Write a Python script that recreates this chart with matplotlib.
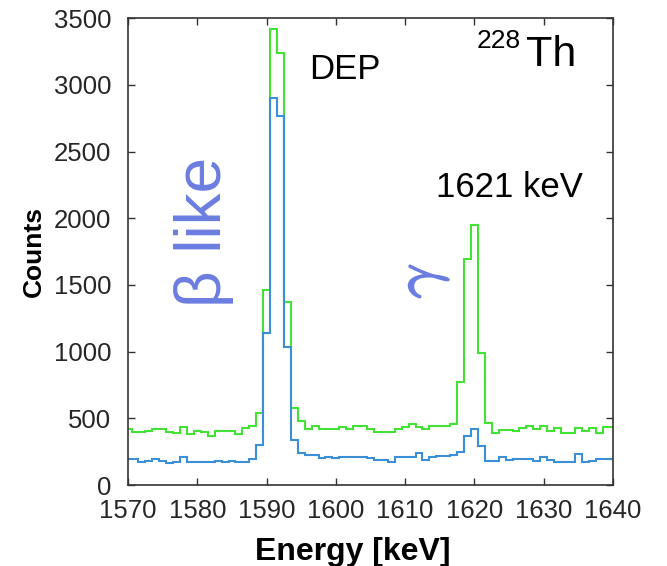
import numpy as np
import matplotlib.pyplot as plt
import matplotlib.patheffects as pe

# energy bins, 1 keV wide, centred on integers 1570..1640
energy = np.arange(1570, 1641)

# all events (green) and single-site / beta-like selection (blue)
counts_all = [
    417, 395, 395, 407, 417, 417, 395, 387, 437, 380,   # 1570-1579
    405, 395, 367, 405, 405, 405, 380, 430, 442, 537,   # 1580-1589
    1460, 3420, 3240, 1370, 580, 482, 417, 445, 417, 417,   # 1590-1599
    417, 432, 417, 445, 445, 417, 395, 395, 395, 417,   # 1600-1609
    432, 457, 432, 417, 445, 445, 445, 455, 770, 1692,  # 1610-1619
    1949, 987, 467, 390, 412, 412, 405, 430, 442, 417,  # 1620-1629
    442, 405, 430, 392, 392, 430, 405, 425, 392, 437,   # 1630-1639
    437,                                                # 1640
]
counts_sel = [
    195, 195, 170, 182, 195, 182, 162, 175, 207, 170,   # 1570-1579
    170, 170, 170, 182, 170, 182, 170, 170, 195, 300,   # 1580-1589
    1140, 2900, 2770, 1035, 340, 242, 225, 225, 200, 212,   # 1590-1599
    200, 212, 212, 212, 212, 200, 187, 187, 170, 212,   # 1600-1609
    212, 212, 242, 187, 207, 217, 217, 225, 245, 370,   # 1610-1619
    420, 295, 182, 182, 207, 187, 195, 195, 195, 182,   # 1620-1629
    207, 187, 170, 170, 170, 232, 170, 182, 195, 195,   # 1630-1639
    195,                                                # 1640
]

edges = np.append(energy - 0.5, energy[-1] + 0.5)

plt.rcParams['font.family'] = ['Liberation Sans', 'DejaVu Sans']
plt.rcParams['mathtext.fontset'] = 'cm'

fig = plt.figure(figsize=(6.67, 5.66), dpi=100)
ax = fig.add_axes([0.192, 0.143, 0.727, 0.825])

ax.stairs(counts_all, edges, color='#44e234', lw=1.5)
ax.stairs(counts_sel, edges, color='#3a8fd6', lw=1.5)

ax.set_xlim(1570, 1640)
ax.set_ylim(0, 3500)
ax.set_xticks(np.arange(1570, 1641, 10))
ax.set_yticks(np.arange(0, 3501, 500))
ax.tick_params(direction='in', top=True, right=True, length=5, width=1,
               labelsize=18.5, labelcolor='#262626', color='#333333')
ax.tick_params(axis='x', pad=10)
ax.tick_params(axis='y', pad=12)
for s in ax.spines.values():
    s.set_color('#333333')
    s.set_linewidth(1.2)

ax.set_xlabel('Energy [keV]', fontsize=23, fontweight='bold')
ax.xaxis.set_label_coords(0.463, -0.112)
ax.set_ylabel('Counts', fontsize=19, fontweight='bold', labelpad=6)

# annotations
ax.text(1596.2, 3040, 'DEP', fontsize=25)
ax.text(1614.5, 2160, '1621 keV', fontsize=25)
ax.text(1627.5, 3140, 'Th', fontsize=31)
ax.text(1620.3, 3275, '228', fontsize=19)
ax.text(1580.9, 1900, '\u03b2 like', fontsize=46, color='#6b7de0',
        rotation=90, ha='center', va='center')
ax.text(1612.6, 1530, r'$\gamma$', fontsize=44, color='#6b7de0',
        rotation=90, ha='center', va='center',
        path_effects=[pe.withStroke(linewidth=1.3, foreground='#6b7de0')])

fig.savefig('out.png', dpi=100)
